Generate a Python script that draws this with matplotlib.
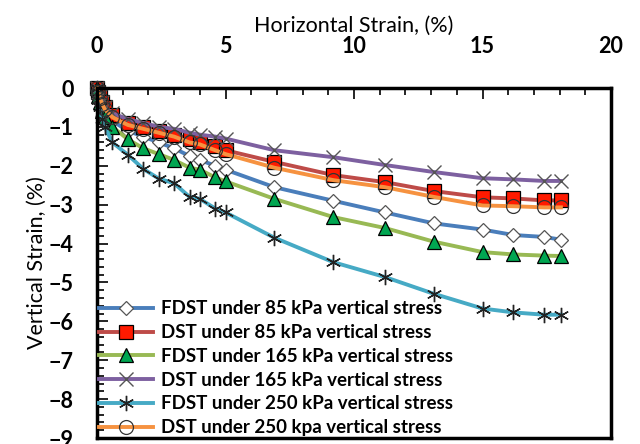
import matplotlib.pyplot as plt
from matplotlib.ticker import MultipleLocator

# horizontal strain (%) shared by all tests
h_strain = [0, 0.05, 0.1, 0.2, 0.3, 0.6, 1.2, 1.8, 2.4, 3.0, 3.6, 4.0, 4.6, 5.0,
            6.9, 9.2, 11.2, 13.1, 15.0, 16.2, 17.4, 18.05]

fdst_85 = [0, -0.15, -0.3, -0.5, -0.65, -0.85, -1.1, -1.25, -1.4, -1.55, -1.75, -1.85, -2.0, -2.1,
           -2.55, -2.9, -3.2, -3.48, -3.64, -3.78, -3.83, -3.9]
dst_85 = [0, -0.1, -0.2, -0.35, -0.5, -0.7, -0.9, -1.0, -1.1, -1.2, -1.3, -1.4, -1.5, -1.6,
          -1.9, -2.24, -2.42, -2.65, -2.81, -2.84, -2.89, -2.89]
fdst_165 = [0, -0.2, -0.35, -0.6, -0.75, -1.0, -1.32, -1.55, -1.7, -1.85, -2.05, -2.1, -2.3, -2.4,
            -2.85, -3.32, -3.6, -3.95, -4.22, -4.28, -4.31, -4.32]
dst_165 = [0, -0.1, -0.2, -0.35, -0.5, -0.65, -0.8, -0.9, -1.0, -1.05, -1.15, -1.2, -1.25, -1.3,
           -1.6, -1.78, -1.98, -2.16, -2.32, -2.35, -2.39, -2.39]
fdst_250 = [0, -0.3, -0.5, -0.8, -1.0, -1.4, -1.72, -2.08, -2.33, -2.45, -2.8, -2.85, -3.1, -3.2,
            -3.85, -4.48, -4.86, -5.29, -5.67, -5.77, -5.83, -5.83]
dst_250 = [0, -0.1, -0.25, -0.4, -0.55, -0.75, -0.95, -1.05, -1.15, -1.25, -1.4, -1.45, -1.6, -1.7,
           -2.05, -2.37, -2.55, -2.8, -3.02, -3.04, -3.07, -3.07]

labels = ['FDST under 85 kPa vertical stress', 'DST under 85 kPa vertical stress',
          'FDST under 165 kPa vertical stress', 'DST under 165 kPa vertical stress',
          'FDST under 250 kPa vertical stress', 'DST under 250 kpa vertical stress']

plt.rcParams['font.family'] = ['Lato', 'DejaVu Sans']

fig = plt.figure(figsize=(6.4, 4.44), dpi=100)
ax = fig.add_axes([0.1516, 0.0135, 0.8031, 0.7883])

ax.plot(h_strain, fdst_85, color='#4A7EBB', lw=2.8, marker='D', ms=7,
        mfc='white', mec='#555555', mew=0.9, label=labels[0])
ax.plot(h_strain, dst_85, color='#BE4B48', lw=2.8, marker='s', ms=10,
        mfc='#FF1A00', mec='black', mew=0.9, label=labels[1])
ax.plot(h_strain, fdst_165, color='#98B954', lw=2.8, marker='^', ms=10,
        mfc='#00A651', mec='black', mew=0.9, label=labels[2])
ax.plot(h_strain, dst_165, color='#7D60A0', lw=2.8, marker='x', ms=10,
        mec='#555555', mew=1.0, label=labels[3])
ax.plot(h_strain, fdst_250, color='#46AAC5', lw=2.8, marker=(6, 2, 0), ms=11,
        mec='#222222', mew=1.0, label=labels[4])
ax.plot(h_strain, dst_250, color='#F69240', lw=2.8, marker='o', ms=10,
        mfc='none', mec='#333333', mew=0.9, label=labels[5])

ax.set_xlim(0, 20)
ax.set_ylim(-9, 0)
ax.xaxis.set_major_locator(MultipleLocator(5))
ax.xaxis.set_minor_locator(MultipleLocator(1))
ax.yaxis.set_major_locator(MultipleLocator(1))
ax.yaxis.set_minor_locator(MultipleLocator(0.2))
ax.xaxis.tick_top()
ax.xaxis.set_label_position('top')
ax.tick_params(axis='both', which='both', direction='in', width=1.2)
ax.tick_params(which='major', length=8, labelsize=15.5)
ax.tick_params(which='minor', length=5)
ax.tick_params(axis='x', pad=22)
ax.tick_params(axis='y', pad=17)
for lab in ax.get_xticklabels() + ax.get_yticklabels():
    lab.set_fontweight('bold')
for sp in ax.spines.values():
    sp.set_linewidth(2.5)
ax.set_xlabel('Horizontal Strain, (%)', fontsize=15.5, labelpad=3)
ax.set_ylabel('Vertical Strain, (%)', fontsize=15.5, labelpad=1)

ax.legend(loc='lower left', frameon=False, prop={'weight': 'bold', 'size': 13.5},
          handlelength=2.9, borderaxespad=0.0, borderpad=0.1, labelspacing=0.36,
          handletextpad=0.4)
for ln in ax.lines:
    ln.set_clip_on(False)

fig.savefig('out.png', dpi=100)
